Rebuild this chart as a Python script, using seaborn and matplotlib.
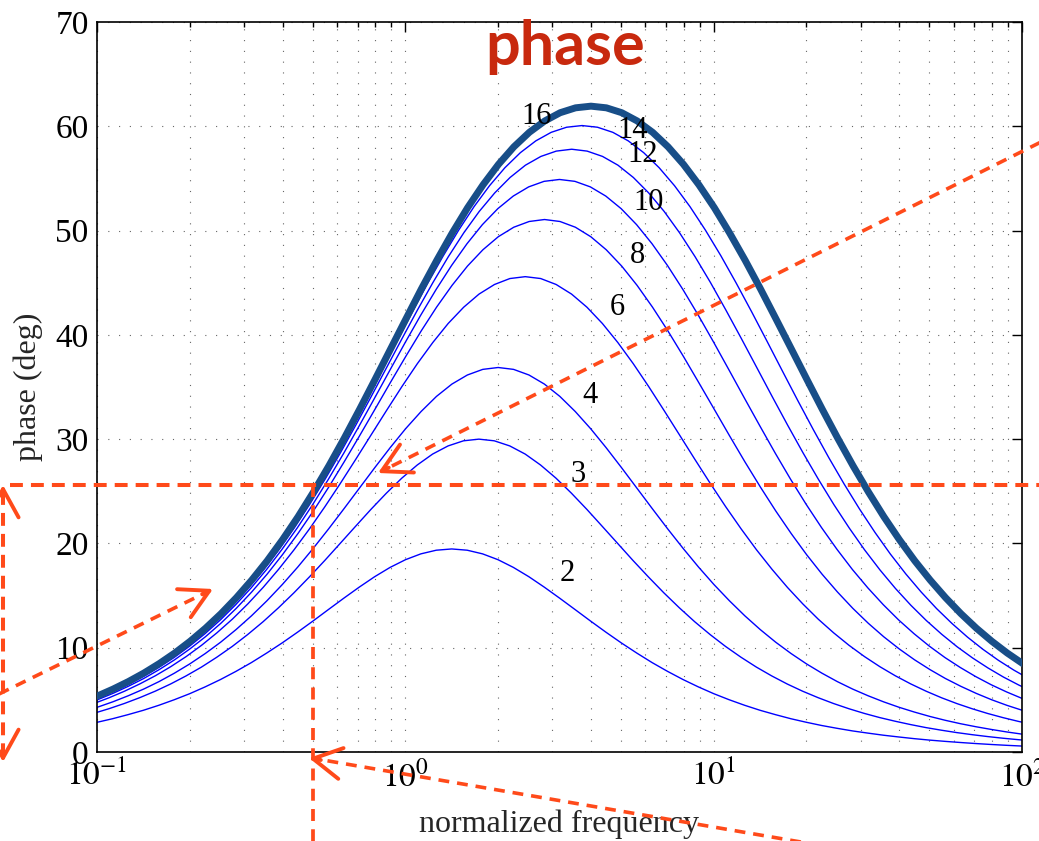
import matplotlib
matplotlib.use("Agg")
import numpy as np
import pandas as pd
import matplotlib.pyplot as plt
import seaborn as sns
from matplotlib.lines import Line2D
from matplotlib.ticker import LogLocator, NullFormatter, FixedLocator

# ---------------- data ----------------
ratios = [2, 3, 4, 6, 8, 10, 12, 14, 16]

freq_2 = [0.08923, 0.1001, 0.1123, 0.1260, 0.1414, 0.1587, 0.1780, 0.1998, 0.2241, 0.2515, 0.2822,
          0.3166, 0.3552, 0.3986, 0.4472, 0.5018, 0.5630, 0.6317, 0.7088, 0.7953, 0.8923, 1.001,
          1.123, 1.260, 1.414, 1.587, 1.780, 1.998, 2.241, 2.515, 2.822, 3.166, 3.552, 3.986, 4.472,
          5.018, 5.630, 6.317, 7.088, 7.953, 8.923, 10.01, 11.23, 12.60, 14.14, 15.87, 17.80, 19.98,
          22.41, 25.15, 28.22, 31.66, 35.52, 39.86, 44.72, 50.18, 56.30, 63.17, 70.88, 79.53, 89.23,
          100.1, 112.3]
phase_2 = [2.54, 2.85, 3.19, 3.58, 4.00, 4.48, 5.01, 5.59, 6.24, 6.95, 7.73, 8.57, 9.49, 10.46, 11.49,
           12.56, 13.66, 14.75, 15.81, 16.81, 17.70, 18.44, 19.00, 19.35, 19.47, 19.35, 19.00, 18.44,
           17.70, 16.81, 15.81, 14.75, 13.66, 12.56, 11.49, 10.46, 9.49, 8.57, 7.73, 6.95, 6.24, 5.59,
           5.01, 4.48, 4.00, 3.58, 3.19, 2.85, 2.54, 2.27, 2.02, 1.81, 1.61, 1.44, 1.28, 1.14, 1.02,
           0.91, 0.81, 0.72, 0.64, 0.57, 0.51]

freq_3 = [0.08681, 0.09740, 0.1093, 0.1226, 0.1376, 0.1544, 0.1732, 0.1943, 0.2181, 0.2447, 0.2745,
          0.3080, 0.3456, 0.3878, 0.4351, 0.4882, 0.5477, 0.6146, 0.6895, 0.7737, 0.8681, 0.9740,
          1.093, 1.226, 1.376, 1.544, 1.732, 1.943, 2.181, 2.447, 2.745, 3.080, 3.456, 3.878, 4.351,
          4.882, 5.477, 6.146, 6.895, 7.737, 8.681, 9.740, 10.93, 12.26, 13.76, 15.44, 17.32, 19.43,
          21.81, 24.47, 27.45, 30.80, 34.56, 38.78, 43.51, 48.82, 54.77, 61.46, 68.95, 77.37, 86.81,
          97.40, 109.3]
phase_3 = [3.30, 3.70, 4.15, 4.65, 5.21, 5.83, 6.52, 7.29, 8.14, 9.09, 10.12, 11.26, 12.49, 13.83,
           15.26, 16.78, 18.36, 20.00, 21.64, 23.27, 24.82, 26.26, 27.52, 28.57, 29.35, 29.84, 30.00,
           29.84, 29.35, 28.57, 27.52, 26.26, 24.82, 23.27, 21.64, 20.00, 18.36, 16.78, 15.26, 13.83,
           12.49, 11.26, 10.12, 9.09, 8.14, 7.29, 6.52, 5.83, 5.21, 4.65, 4.15, 3.70, 3.30, 2.95, 2.63,
           2.34, 2.09, 1.86, 1.66, 1.48, 1.32, 1.18, 1.05]

freq_4 = [0.07962, 0.08934, 0.1002, 0.1125, 0.1262, 0.1416, 0.1589, 0.1783, 0.2000, 0.2244, 0.2518,
          0.2825, 0.3170, 0.3557, 0.3991, 0.4477, 0.5024, 0.5637, 0.6325, 0.7096, 0.7962, 0.8934,
          1.002, 1.125, 1.262, 1.416, 1.589, 1.783, 2.000, 2.244, 2.518, 2.825, 3.170, 3.557, 3.991,
          4.477, 5.024, 5.637, 6.325, 7.096, 7.962, 8.934, 10.02, 11.25, 12.62, 14.16, 15.89, 17.83,
          20.00, 22.44, 25.18, 28.25, 31.70, 35.57, 39.91, 44.77, 50.24, 56.37, 63.25, 70.96, 79.62,
          89.34, 100.2]
phase_4 = [3.41, 3.83, 4.29, 4.81, 5.39, 6.03, 6.75, 7.56, 8.45, 9.44, 10.53, 11.74, 13.06, 14.50,
           16.06, 17.73, 19.52, 21.39, 23.33, 25.30, 27.27, 29.19, 31.00, 32.65, 34.10, 35.28, 36.15,
           36.69, 36.87, 36.69, 36.15, 35.28, 34.10, 32.65, 31.00, 29.19, 27.27, 25.30, 23.33, 21.39,
           19.52, 17.73, 16.06, 14.50, 13.06, 11.74, 10.53, 9.44, 8.45, 7.56, 6.75, 6.03, 5.39, 4.81,
           4.29, 3.83, 3.41, 3.04, 2.71, 2.42, 2.16, 1.92, 1.71]

freq_6 = [0.09752, 0.1094, 0.1228, 0.1377, 0.1546, 0.1734, 0.1946, 0.2183, 0.2449, 0.2748, 0.3084,
          0.3460, 0.3882, 0.4356, 0.4887, 0.5484, 0.6153, 0.6904, 0.7746, 0.8691, 0.9752, 1.094,
          1.228, 1.377, 1.546, 1.734, 1.946, 2.183, 2.449, 2.748, 3.084, 3.460, 3.882, 4.356, 4.887,
          5.484, 6.153, 6.904, 7.746, 8.691, 9.752, 10.94, 12.28, 13.77, 15.46, 17.34, 19.46, 21.83,
          24.49, 27.48, 30.84, 34.60, 38.82, 43.56, 48.87, 54.84, 61.53, 69.04, 77.46, 86.91, 97.52,
          109.4, 122.8]
phase_6 = [4.64, 5.20, 5.83, 6.53, 7.31, 8.18, 9.15, 10.23, 11.43, 12.74, 14.20, 15.79, 17.52, 19.39,
           21.39, 23.52, 25.75, 28.06, 30.41, 32.75, 35.05, 37.24, 39.27, 41.09, 42.65, 43.91, 44.83,
           45.40, 45.58, 45.40, 44.83, 43.91, 42.65, 41.09, 39.27, 37.24, 35.05, 32.75, 30.41, 28.06,
           25.75, 23.52, 21.39, 19.39, 17.52, 15.79, 14.20, 12.74, 11.43, 10.23, 9.15, 8.18, 7.31, 6.53,
           5.83, 5.20, 4.64, 4.14, 3.69, 3.29, 2.93, 2.62, 2.33]

freq_8 = [0.08944, 0.1004, 0.1126, 0.1263, 0.1418, 0.1591, 0.1785, 0.2002, 0.2247, 0.2521, 0.2828,
          0.3174, 0.3561, 0.3995, 0.4483, 0.5030, 0.5643, 0.6332, 0.7105, 0.7972, 0.8944, 1.004,
          1.126, 1.263, 1.418, 1.591, 1.785, 2.002, 2.247, 2.521, 2.828, 3.174, 3.561, 3.995, 4.483,
          5.030, 5.643, 6.332, 7.105, 7.972, 8.944, 10.04, 11.26, 12.63, 14.18, 15.91, 17.85, 20.02,
          22.47, 25.21, 28.28, 31.74, 35.61, 39.95, 44.83, 50.30, 56.43, 63.32, 71.05, 79.72, 89.44,
          100.4, 112.6]
phase_8 = [4.47, 5.01, 5.62, 6.30, 7.05, 7.90, 8.84, 9.89, 11.05, 12.34, 13.77, 15.34, 17.05, 18.92,
           20.94, 23.10, 25.40, 27.82, 30.32, 32.87, 35.43, 37.95, 40.38, 42.66, 44.75, 46.60, 48.16,
           49.41, 50.32, 50.87, 51.06, 50.87, 50.32, 49.41, 48.16, 46.60, 44.75, 42.66, 40.38, 37.95,
           35.43, 32.87, 30.32, 27.82, 25.40, 23.10, 20.94, 18.92, 17.05, 15.34, 13.77, 12.34, 11.05,
           9.89, 8.84, 7.90, 7.05, 6.30, 5.62, 5.01, 4.47, 3.99, 3.56]

freq_10 = [0.1000, 0.1122, 0.1259, 0.1413, 0.1585, 0.1778, 0.1995, 0.2239, 0.2512, 0.2818, 0.3162,
           0.3548, 0.3981, 0.4467, 0.5012, 0.5623, 0.6310, 0.7079, 0.7943, 0.8913, 1.000, 1.122,
           1.259, 1.413, 1.585, 1.778, 1.995, 2.239, 2.512, 2.818, 3.162, 3.548, 3.981, 4.467, 5.012,
           5.623, 6.310, 7.079, 7.943, 8.913, 10.00, 11.22, 12.59, 14.13, 15.85, 17.78, 19.95, 22.39,
           25.12, 28.18, 31.62, 35.48, 39.81, 44.67, 50.12, 56.23, 63.10, 70.79, 79.43, 89.13, 100.0]
phase_10 = [5.14, 5.76, 6.45, 7.23, 8.10, 9.06, 10.14, 11.34, 12.66, 14.13, 15.74, 17.50, 19.43, 21.51,
            23.75, 26.13, 28.64, 31.25, 33.92, 36.62, 39.29, 41.89, 44.36, 46.66, 48.74, 50.57, 52.10,
            53.31, 54.19, 54.72, 54.90, 54.72, 54.19, 53.31, 52.10, 50.57, 48.74, 46.66, 44.36, 41.89,
            39.29, 36.62, 33.92, 31.25, 28.64, 26.13, 23.75, 21.51, 19.43, 17.50, 15.74, 14.13, 12.66,
            11.34, 10.14, 9.06, 8.10, 7.23, 6.45, 5.76, 5.14]

freq_12 = [0.08701, 0.09763, 0.1095, 0.1229, 0.1379, 0.1547, 0.1736, 0.1948, 0.2186, 0.2452, 0.2752,
           0.3087, 0.3464, 0.3887, 0.4361, 0.4893, 0.5490, 0.6160, 0.6912, 0.7755, 0.8701, 0.9763,
           1.095, 1.229, 1.379, 1.547, 1.736, 1.948, 2.186, 2.452, 2.752, 3.087, 3.464, 3.887, 4.361,
           4.893, 5.490, 6.160, 6.912, 7.755, 8.701, 9.763, 10.95, 12.29, 13.79, 15.47, 17.36, 19.48,
           21.86, 24.52, 27.52, 30.87, 34.64, 38.87, 43.61, 48.93, 54.90, 61.60, 69.12, 77.55, 87.01,
           97.63, 109.5]
phase_12 = [4.56, 5.11, 5.73, 6.42, 7.19, 8.06, 9.02, 10.09, 11.29, 12.61, 14.07, 15.68, 17.45, 19.38,
            21.48, 23.74, 26.15, 28.70, 31.36, 34.10, 36.88, 39.66, 42.39, 45.02, 47.50, 49.78, 51.83,
            53.60, 55.09, 56.27, 57.11, 57.62, 57.80, 57.62, 57.11, 56.27, 55.09, 53.60, 51.83, 49.78,
            47.50, 45.02, 42.39, 39.66, 36.88, 34.10, 31.36, 28.70, 26.15, 23.74, 21.48, 19.38, 17.45,
            15.68, 14.07, 12.61, 11.29, 10.09, 9.02, 8.06, 7.19, 6.42, 5.73]

freq_14 = [0.09399, 0.1055, 0.1183, 0.1328, 0.1490, 0.1671, 0.1875, 0.2104, 0.2361, 0.2649, 0.2972,
           0.3335, 0.3742, 0.4198, 0.4710, 0.5285, 0.5930, 0.6654, 0.7466, 0.8377, 0.9399, 1.055,
           1.183, 1.328, 1.490, 1.671, 1.875, 2.104, 2.361, 2.649, 2.972, 3.335, 3.742, 4.198, 4.710,
           5.285, 5.930, 6.654, 7.466, 8.377, 9.399, 10.55, 11.83, 13.28, 14.90, 16.71, 18.75, 21.04,
           23.61, 26.49, 29.72, 33.35, 37.42, 41.98, 47.10, 52.85, 59.30, 66.54, 74.66, 83.77, 93.99,
           105.5, 118.3]
phase_14 = [4.98, 5.59, 6.26, 7.02, 7.86, 8.80, 9.85, 11.02, 12.32, 13.75, 15.34, 17.08, 18.98, 21.06,
            23.30, 25.70, 28.24, 30.92, 33.69, 36.53, 39.38, 42.21, 44.97, 47.59, 50.05, 52.30, 54.30,
            56.03, 57.47, 58.60, 59.42, 59.91, 60.07, 59.91, 59.42, 58.60, 57.47, 56.03, 54.30, 52.30,
            50.05, 47.59, 44.97, 42.21, 39.38, 36.53, 33.69, 30.92, 28.24, 25.70, 23.30, 21.06, 18.98,
            17.08, 15.34, 13.75, 12.32, 11.02, 9.85, 8.80, 7.86, 7.02, 6.26]

freq_16 = [0.07981, 0.08955, 0.1005, 0.1127, 0.1265, 0.1419, 0.1592, 0.1787, 0.2005, 0.2249, 0.2524,
           0.2832, 0.3177, 0.3565, 0.4000, 0.4488, 0.5036, 0.5650, 0.6340, 0.7113, 0.7981, 0.8955,
           1.005, 1.127, 1.265, 1.419, 1.592, 1.787, 2.005, 2.249, 2.524, 2.832, 3.177, 3.565, 4.000,
           4.488, 5.036, 5.650, 6.340, 7.113, 7.981, 8.955, 10.05, 11.27, 12.65, 14.19, 15.92, 17.87,
           20.05, 22.49, 25.24, 28.32, 31.77, 35.65, 40.00, 44.88, 50.36, 56.50, 63.40, 71.13, 79.81,
           89.55, 100.5]
phase_16 = [4.28, 4.80, 5.38, 6.03, 6.76, 7.57, 8.48, 9.49, 10.62, 11.87, 13.26, 14.80, 16.49, 18.34,
            20.37, 22.56, 24.93, 27.44, 30.10, 32.88, 35.74, 38.64, 41.54, 44.40, 47.15, 49.76, 52.19,
            54.39, 56.35, 58.03, 59.42, 60.51, 61.30, 61.77, 61.93, 61.77, 61.30, 60.51, 59.42, 58.03,
            56.35, 54.39, 52.19, 49.76, 47.15, 44.40, 41.54, 38.64, 35.74, 32.88, 30.10, 27.44, 24.93,
            22.56, 20.37, 18.34, 16.49, 14.80, 13.26, 11.87, 10.62, 9.49, 8.48]

highlight_ratio = 16
target_freq = 0.5
target_phase = 25.6

title_text = "phase"
xlabel_text = "normalized frequency"
ylabel_text = "phase (deg)"
x_ticks = [0.1, 1, 10, 100]
x_ticklabels = [r"$10^{-1}$", r"$10^{0}$", r"$10^{1}$", r"$10^{2}$"]
y_ticks = [0, 10, 20, 30, 40, 50, 60, 70]

# ---------------- long-form table ----------------
freqs = {2: freq_2, 3: freq_3, 4: freq_4, 6: freq_6, 8: freq_8,
         10: freq_10, 12: freq_12, 14: freq_14, 16: freq_16}
phases = {2: phase_2, 3: phase_3, 4: phase_4, 6: phase_6, 8: phase_8,
          10: phase_10, 12: phase_12, 14: phase_14, 16: phase_16}
df = pd.concat([pd.DataFrame({"ratio": r, "freq": freqs[r], "phase": phases[r]}) for r in ratios],
               ignore_index=True)

# ---------------- style ----------------
sns.set_theme(style="white")
plt.rcParams["font.family"] = ["Liberation Serif", "DejaVu Serif"]
plt.rcParams["mathtext.fontset"] = "stix"

W, H = 1039, 841
fig = plt.figure(figsize=(W / 100, H / 100), dpi=100)
ax = fig.add_axes([97 / W, (H - 752) / H, 925 / W, 730 / H])

thin_color = "#0000FF"
thick_color = "#184E88"
ann_color = "#FF4A1A"

for r in ratios:
    sns.lineplot(data=df[df["ratio"] == r], x="freq", y="phase", ax=ax, color=thin_color,
                 linewidth=1.0, estimator=None, legend=False, zorder=2)
line_thick = sns.lineplot(data=df[df["ratio"] == highlight_ratio], x="freq", y="phase", ax=ax,
                          color=thick_color, linewidth=5.0, estimator=None, legend=False, zorder=3)
ax.lines[-1].set_solid_joinstyle("round")
ax.lines[-1].set_solid_capstyle("round")

ax.set_xscale("log")
ax.set_xlim(0.1, 100)
ax.set_ylim(0, 70)

ax.xaxis.set_major_locator(FixedLocator(x_ticks))
ax.set_xticklabels(x_ticklabels)
ax.xaxis.set_minor_locator(LogLocator(base=10, subs=np.arange(2, 10)))
ax.xaxis.set_minor_formatter(NullFormatter())
ax.set_yticks(y_ticks)
ax.set_yticklabels([str(v) for v in y_ticks])

ax.tick_params(which="both", direction="in", top=True, right=True, colors="black",
               labelsize=24, width=1.0)
ax.tick_params(which="major", length=7, pad=6)
ax.tick_params(which="minor", length=3.5)

grid_kw = dict(color="0.4", linewidth=0.8, linestyle=(0, (1, 8.7)))
ax.grid(True, which="major", axis="both", **grid_kw)
ax.grid(True, which="minor", axis="x", **grid_kw)
ax.set_axisbelow(True)

for s in ax.spines.values():
    s.set_visible(True)
    s.set_color("black")
    s.set_linewidth(1.2)

ax.set_xlabel(xlabel_text, fontsize=23)
ax.set_ylabel(ylabel_text, fontsize=23)
ax.xaxis.set_label_coords(0.4995, -0.079)
ax.yaxis.set_label_coords(-0.058, 0.5)

# ratio labels
label_anchor = {16: (2.673, 60.9), 14: (5.475, 59.6), 12: (5.90, 57.3), 10: (6.17, 52.7),
                8: (5.68, 47.6), 6: (4.86, 42.6), 4: (3.97, 34.2), 3: (3.63, 26.6), 2: (3.34, 17.1)}
for r in ratios:
    x, y = label_anchor[r]
    ax.text(x, y, str(r), fontsize=22, ha="center", va="center", color="black", zorder=6)

# title
ax.text(0.506, 0.941, title_text, transform=ax.transAxes, ha="center", va="baseline",
        fontsize=44, fontweight="bold", family=["Lato", "DejaVu Sans"], color="#C8290E", zorder=7)

# ---------------- red annotation overlay ----------------
ax.axhline(target_phase, xmin=(10 - 97) / 925, xmax=(W - 97) / 925, color=ann_color,
           linewidth=2.9, linestyle=(0, (3.2, 2.0)), clip_on=False, zorder=8)
ax.plot([target_freq, target_freq], [target_phase, -9.0], color=ann_color, linewidth=2.7,
        linestyle=(0, (3.2, 2.2)), clip_on=False, zorder=8)


def fpx(x, y):
    return (x / W, 1 - y / H)


def dashed(p0, p1, lw=2.6, ls=(0, (3.0, 2.2))):
    (x0, y0), (x1, y1) = fpx(*p0), fpx(*p1)
    fig.add_artist(Line2D([x0, x1], [y0, y1], transform=fig.transFigure, color=ann_color,
                          linewidth=lw, linestyle=ls, zorder=8))


def head(tip, frm, lw=2.8):
    tx, ty = tip
    dx, dy = tx - frm[0], ty - frm[1]
    n = np.hypot(dx, dy)
    start = (tx - 12 * dx / n, ty - 12 * dy / n)
    ax.annotate("", xy=fpx(*tip), xytext=fpx(*start), xycoords="figure fraction",
                textcoords="figure fraction", annotation_clip=False,
                arrowprops=dict(arrowstyle="->,head_length=0.6,head_width=0.33", color=ann_color,
                                lw=lw, mutation_scale=34, shrinkA=0, shrinkB=0), zorder=9)


# vertical double arrow at the left edge
dashed((3, 492), (3, 755), lw=2.9, ls=(0, (3.2, 2.0)))
head((3, 485), (3, 600))
head((3, 762), (3, 650))
# left arrow pointing into the plot
dashed((-5, 696), (205, 593))
head((213, 589), (0, 693))
# arrow from the upper right
dashed((1045, 140), (386, 469))
head((378, 473), (1039, 143))
# arrow from the bottom
dashed((830, 847), (317, 759))
head((309, 758), (800, 842))

fig.savefig("out.png", dpi=100)
